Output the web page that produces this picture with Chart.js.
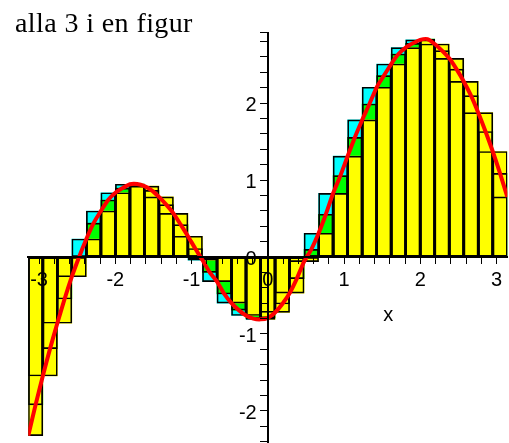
<!DOCTYPE html>
<html>
<head>
<meta charset="utf-8">
<title>alla 3 i en figur</title>
<script src="https://cdn.jsdelivr.net/npm/chart.js@4/dist/chart.umd.min.js"></script>
<style>
  html, body { margin: 0; padding: 0; background: #fff; }
  #wrap { position: relative; width: 509px; height: 443px; }
</style>
</head>
<body>
<div id="wrap"><canvas id="c" width="509" height="443"></canvas></div>
<script>
// Partition of [-pi, pi] into 33 boxes
const edges = [
  -3.1416, -2.9512, -2.7608, -2.5704, -2.3800, -2.1896, -1.9992, -1.8088, -1.6184,
  -1.4280, -1.2376, -1.0472, -0.8568, -0.6664, -0.4760, -0.2856, -0.0952,
   0.0952,  0.2856,  0.4760,  0.6664,  0.8568,  1.0472,  1.2376,  1.4280,
   1.6184,  1.8088,  1.9992,  2.1896,  2.3800,  2.5704,  2.7608,  2.9512, 3.1416
];

// f at the left end of each box
const leftValues = [
  -2.32, -1.545, -0.86, -0.256, 0.234, 0.597, 0.835, 0.945, 0.92, 0.78, 0.567,
   0.27, -0.04, -0.32, -0.60, -0.76, -0.81, -0.72, -0.47, -0.06, 0.308, 0.827,
   1.31, 1.78, 2.204, 2.506, 2.72, 2.82, 2.766, 2.58, 2.28, 1.874, 1.37
];

// f at the midpoint of each box
const midValues = [
  -1.92, -1.19, -0.546, 0.00, 0.44, 0.74, 0.895, 0.948, 0.865, 0.68, 0.42,
   0.11, -0.20, -0.48, -0.69, -0.80, -0.79, -0.61, -0.28, 0.10, 0.555, 1.056,
   1.554, 1.987, 2.355, 2.636, 2.775, 2.83, 2.68, 2.44, 2.095, 1.63, 1.087
];

// f at the right end of each box
const rightValues = [
  -1.545, -0.86, -0.256, 0.234, 0.597, 0.835, 0.945, 0.92, 0.78, 0.567, 0.27,
  -0.04, -0.32, -0.60, -0.76, -0.81, -0.72, -0.47, -0.06, 0.308, 0.827, 1.31,
   1.78, 2.204, 2.506, 2.72, 2.82, 2.766, 2.58, 2.28, 1.874, 1.37, 0.78
];

const xTickLabels = ['-3', '-2', '-1', '0', '1', '2', '3'];
const yTickLabels = ['-2', '-1', '0', '1', '2'];
const titleText = 'alla 3 i en figur';
const xAxisTitle = 'x';

const centers = leftValues.map((_, i) => (edges[i] + edges[i + 1]) / 2);
const boxes = (vals) => vals.map((v, i) => ({ x: centers[i], y: v }));

const curve = [];
leftValues.forEach((v, i) => {
  curve.push({ x: edges[i], y: v });
  curve.push({ x: centers[i], y: midValues[i] });
});
curve.push({ x: edges[edges.length - 1], y: rightValues[rightValues.length - 1] });

const isWhole = (v) => Math.abs(v - Math.round(v)) < 1e-6;
// tail: spacing kept between the label and the vertical axis line
const labelFor = (list, tail) => (v) => {
  if (!isWhole(v)) return '';
  const s = String(Math.round(v));
  return list.includes(s) ? s + tail : '';
};

const tickFont = { family: "'Liberation Sans', Arial, sans-serif", size: 20 };
const outline = (vals, order) => ({
  type: 'bar', data: boxes(vals), order,
  backgroundColor: 'rgba(0,0,0,0)', borderColor: '#000', borderWidth: 1
});
const fill = (vals, color, order) => ({
  type: 'bar', data: boxes(vals), order,
  backgroundColor: color, borderWidth: 0
});

const figureText = {
  id: 'figureText',
  afterDraw(chart) {
    const ctx = chart.ctx;
    ctx.save();
    ctx.fillStyle = '#000';
    ctx.textBaseline = 'alphabetic';
    ctx.textAlign = 'left';
    ctx.font = "28px 'Liberation Serif', 'Times New Roman', serif";
    if ('letterSpacing' in ctx) ctx.letterSpacing = '0.4px';
    ctx.fillText(titleText, 15, 32);
    if ('letterSpacing' in ctx) ctx.letterSpacing = '0px';
    ctx.font = "20px 'Liberation Sans', Arial, sans-serif";
    ctx.textAlign = 'center';
    const xs = chart.scales.x, ys = chart.scales.y;
    ctx.fillText(xAxisTitle, xs.getPixelForValue(1.58), ys.getPixelForValue(0) + 64);
    ctx.restore();
  }
};

new Chart(document.getElementById('c'), {
  type: 'bar',
  data: {
    datasets: [
      { type: 'line', data: curve, order: 0, borderColor: '#ff0000', borderWidth: 4,
        pointRadius: 0, tension: 0.2, fill: false },
      outline(leftValues, 1),
      outline(midValues, 2),
      outline(rightValues, 3),
      fill(leftValues, '#ffff00', 4),
      fill(midValues, '#00ff00', 5),
      fill(rightValues, '#00ffff', 6)
    ]
  },
  options: {
    responsive: false,
    animation: false,
    devicePixelRatio: 1,
    layout: { padding: { left: 28.3, right: 1.7, top: 32.7, bottom: 0 }, autoPadding: false },
    datasets: {
      bar: { grouped: false, barPercentage: 1, categoryPercentage: 1, borderSkipped: false }
    },
    plugins: { legend: { display: false }, tooltip: { enabled: false }, title: { display: false } },
    scales: {
      x: {
        type: 'linear', min: -Math.PI, max: Math.PI, offset: false,
        position: { y: 0 },
        border: { display: true, color: '#000', width: 2, z: 1 },
        grid: { display: true, offset: false, drawOnChartArea: false, drawTicks: true,
                tickLength: 6, color: '#000', z: 1 },
        ticks: { stepSize: 0.2, includeBounds: false, autoSkip: false, maxRotation: 0,
                 minRotation: 0, padding: 5.5, color: '#000', font: tickFont, z: 1,
                 callback: labelFor(xTickLabels, '') },
        afterFit: (s) => { s.paddingLeft = 0; s.paddingRight = 0; s.paddingTop = 0; s.paddingBottom = 0; }
      },
      y: {
        type: 'linear', min: -2.4156, max: 2.913,
        position: { x: 0 },
        border: { display: true, color: '#000', width: 2, z: 1 },
        grid: { display: true, drawOnChartArea: false, drawTicks: true,
                tickLength: 7, color: '#000', z: 1 },
        ticks: { stepSize: 0.2, includeBounds: false, autoSkip: false, padding: 3,
                 labelOffset: 2, color: '#000', font: tickFont, z: 1,
                 callback: labelFor(yTickLabels, '  ') },
        afterBuildTicks: (s) => { s.ticks.push({ value: s.max }); },
        afterFit: (s) => { s.paddingLeft = 0; s.paddingRight = 0; s.paddingTop = 0; s.paddingBottom = 0; }
      }
    }
  },
  plugins: [figureText]
});
</script>
</body>
</html>
